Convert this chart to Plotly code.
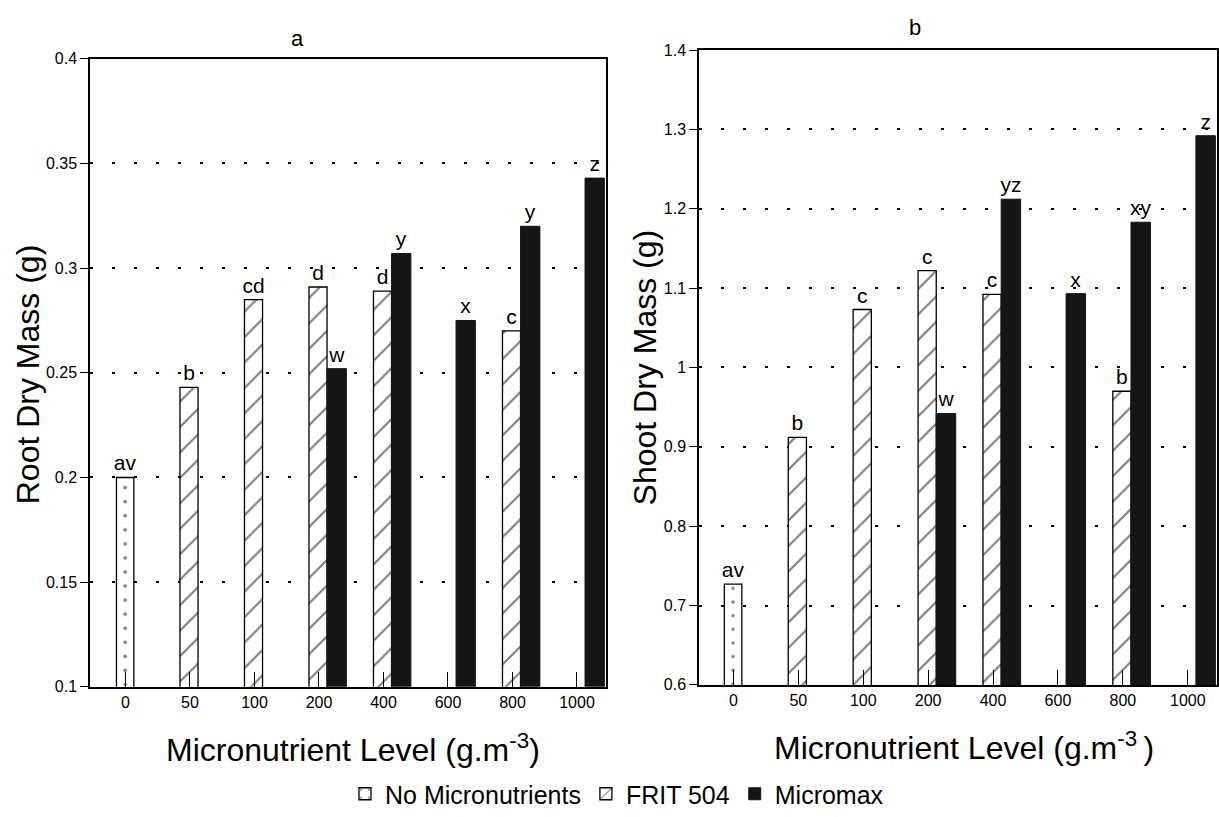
import plotly.graph_objects as go

# ---------------- data ----------------
levels = ["0", "50", "100", "200", "400", "600", "800", "1000"]

root_none = [0.200, None, None, None, None, None, None, None]
root_frit = [None, 0.243, 0.285, 0.291, 0.289, None, 0.270, None]
root_micromax = [None, None, None, 0.252, 0.307, 0.275, 0.320, 0.343]
root_none_lbl = ["av", None, None, None, None, None, None, None]
root_frit_lbl = [None, "b", "cd", "d", "d", None, "c", None]
root_micromax_lbl = [None, None, None, "w", "y", "x", "y", "z"]

shoot_none = [0.727, None, None, None, None, None, None, None]
shoot_frit = [None, 0.912, 1.073, 1.122, 1.092, None, 0.970, None]
shoot_micromax = [None, None, None, 0.942, 1.212, 1.093, 1.183, 1.292]
shoot_none_lbl = ["av", None, None, None, None, None, None, None]
shoot_frit_lbl = [None, "b", "c", "c", "c", None, "b", None]
shoot_micromax_lbl = [None, None, None, "w", "yz", "x", "xy", "z"]

root_ticks = [0.1, 0.15, 0.2, 0.25, 0.3, 0.35, 0.4]
root_ticktext = ["0.1", "0.15", "0.2", "0.25", "0.3", "0.35", "0.4"]
shoot_ticks = [0.6, 0.7, 0.8, 0.9, 1.0, 1.1, 1.2, 1.3, 1.4]
shoot_ticktext = ["0.6", "0.7", "0.8", "0.9", "1", "1.1", "1.2", "1.3", "1.4"]

series_names = ["No Micronutrients", "FRIT 504", "Micromax"]

FONT = "Liberation Sans, Arial, sans-serif"
W, H = 1219, 817

fig = go.Figure()

def add_panel(vals_none, vals_frit, vals_mm, lb_none, lb_frit, lb_mm, xa, ya, show, dot_size):
    common = dict(x=levels, xaxis=xa, yaxis=ya, textposition="outside",
                  constraintext="none", cliponaxis=False,
                  textfont=dict(family=FONT, size=21, color="black"))
    fig.add_trace(go.Bar(
        y=vals_none, text=lb_none, name=series_names[0], showlegend=show,
        legendgroup="n", offset=-0.14, width=0.27,
        marker=dict(color="white", line=dict(color="black", width=1.3),
                    pattern=dict(shape=".", fgcolor="black", bgcolor="white",
                                 size=dot_size, solidity=0.05)),
        **common))
    fig.add_trace(go.Bar(
        y=vals_frit, text=lb_frit, name=series_names[1], showlegend=show,
        legendgroup="f", offset=-0.155, width=0.28,
        marker=dict(color="white", line=dict(color="black", width=1.3),
                    pattern=dict(shape="/", fgcolor="black", bgcolor="white",
                                 size=18, solidity=0.12)),
        **common))
    fig.add_trace(go.Bar(
        y=vals_mm, text=lb_mm, name=series_names[2], showlegend=show,
        legendgroup="m", offset=0.125, width=0.30,
        marker=dict(color="#151515", line=dict(color="#151515", width=1)),
        **common))

add_panel(root_none, root_frit, root_micromax,
          root_none_lbl, root_frit_lbl, root_micromax_lbl, "x", "y", True, 14.06)
add_panel(shoot_none, shoot_frit, shoot_micromax,
          shoot_none_lbl, shoot_frit_lbl, shoot_micromax_lbl, "x2", "y2", False, 13.63)

def px_x(p):
    return p / W

def px_y(p):
    return 1 - p / H

xcommon = dict(type="category", showline=True, linecolor="black", linewidth=1.5,
               mirror=True, ticks="inside", ticklen=15, tickcolor="black",
               tickwidth=1.2, showgrid=False, zeroline=False,
               tickfont=dict(family=FONT, size=16, color="black"))
ycommon = dict(showline=True, linecolor="black", linewidth=1.5, mirror=True,
               ticks="outside", ticklen=8, tickcolor="black", tickwidth=1.2,
               showgrid=True, gridcolor="black", gridwidth=1.6,
               griddash="3px,19px", zeroline=False,
               tickfont=dict(family=FONT, size=16, color="black"))

fig.update_layout(
    width=W, height=H,
    margin=dict(l=0, r=0, t=0, b=0),
    paper_bgcolor="white", plot_bgcolor="white",
    barmode="overlay",
    font=dict(family=FONT, color="black"),
    xaxis=dict(domain=[px_x(90), px_x(606)], range=[-0.55, 7.45],
               anchor="y", **xcommon),
    yaxis=dict(domain=[px_y(695), px_y(52)], range=[0.1, 0.4],
               tickvals=root_ticks, ticktext=root_ticktext, anchor="x", **ycommon),
    xaxis2=dict(domain=[px_x(699), px_x(1217)], range=[-0.53, 7.45],
                anchor="y2", **xcommon),
    yaxis2=dict(domain=[px_y(693), px_y(43)], range=[0.6, 1.4],
                tickvals=shoot_ticks, ticktext=shoot_ticktext, anchor="x2", **ycommon),
    legend=dict(orientation="h", x=px_x(617), xanchor="center", y=px_y(805),
                yanchor="middle", font=dict(family=FONT, size=25, color="black"),
                traceorder="normal", bgcolor="rgba(0,0,0,0)"),
)

ann = [
    dict(text="a", x=px_x(297), y=px_y(31), font_size=22),
    dict(text="b", x=px_x(915), y=px_y(20), font_size=22),
    dict(text="Root Dry Mass (g)", x=px_x(28), y=px_y(375), font_size=32, textangle=-90),
    dict(text="Shoot Dry Mass (g)", x=px_x(645), y=px_y(368), font_size=32, textangle=-90),
    dict(text="Micronutrient Level (g.m<sup>-3</sup>)", x=px_x(353), y=px_y(758), font_size=32),
    dict(text="Micronutrient Level (g.m<sup>-3 </sup>)", x=px_x(964), y=px_y(756), font_size=32),
]
for a in ann:
    fig.add_annotation(xref="paper", yref="paper", showarrow=False,
                       xanchor="center", yanchor="middle",
                       text=a["text"], x=a["x"], y=a["y"],
                       textangle=a.get("textangle", 0),
                       font=dict(family=FONT, size=a["font_size"], color="black"))

fig.write_html("out.html",
               config={"displayModeBar": False},
               post_script="document.body.style.margin='0';document.body.style.overflow='hidden';")
